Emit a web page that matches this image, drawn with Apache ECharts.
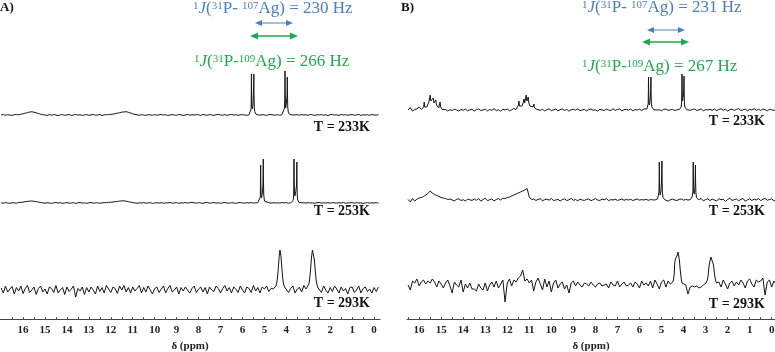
<!DOCTYPE html>
<html>
<head>
<meta charset="utf-8">
<script src="https://cdn.jsdelivr.net/npm/echarts@6/dist/echarts.min.js"></script>
<style>
  html, body { margin: 0; padding: 0; background: #fff; }
  #chart { width: 775px; height: 352px; }
</style>
</head>
<body>
<div id="chart"></div>
<script>
// baseline samples are stored every 0.1 ppm, starting at these shifts
const ppmStep = 0.1;
const ppmStartA = 17.0;
const ppmStartB = 16.5;

const tickLabels = [16, 15, 14, 13, 12, 11, 10, 9, 8, 7, 6, 5, 4, 3, 2, 1, 0];
const tempLabels = ['T = 233K', 'T = 253K', 'T = 293K'];

// ---- panel A ----
const noiseA233 = [
  0, 0.5, -0.3, 0.4, 0, -0.5, 0.3, 0.6, 0.2, 0.8,
  1.2, 1.8, 2.4, 3.0, 3.2, 2.8, 2.2, 1.5, 0.8, 0.3,
  0, -0.4, 0.3, -0.2, 0.5, 0, -0.6, 0.2, 0.4, -0.3,
  0.1, 0.5, -0.4, 0, 0.6, -0.2, 0.3, -0.5, 0.2, 0.4,
  -0.3, 0.1, 0.5, -0.2, 0, 0.4, -0.5, 0.3, 0.2, 0.4,
  0.6, 0.9, 1.3, 1.8, 2.3, 2.8, 3.1, 3.3, 2.7, 2.0,
  1.2, 0.6, 0.2, -0.3, 0.4, 0, -0.4, 0.3, 0.1, -0.2,
  0.4, -0.3, 0.2, 0.5, -0.1, 0.3, -0.5, 0.1, 0.4, 0,
  -0.3, 0.5, 0.2, -0.4, 0, 0.6, -0.2, 0.3, -0.1, 0.4,
  0.2, -0.4, 0.5, 0, -0.3, 0.4, 0.1, -0.5, 0.3, 0.6,
  0, -0.2, 0.4, -0.4, 0.2, 0.5, -0.1, 0.3, -0.3, 0.2,
  0.4, 0, -0.3, 0.5, 0.2, 0, 0, 0, -0.2, 0.3,
  0.1, -0.4, 0.3, 0.5, 0, -0.2, 0.4, -0.3, 0.2, 0.6,
  0.2, 0, 0, 0, 0.1, 0.3, -0.2, 0.4, 0, 0.2,
  -0.3, 0.5, 0.1, -0.4, 0.3, 0, 0.4, -0.2, 0.2, -0.5,
  0.3, 0.6, -0.1, 0.2, -0.4, 0.5, 0, 0.3, -0.3, 0.2,
  0.4, -0.2, 0.1, 0.5, -0.4, 0.2, 0, 0.3, -0.3, 0.4,
  0.1, -0.2, 0.3
];
const peaksA233 = [
  [[5.70, 0.3], [5.65, 0.8], [5.62, 2], [5.605, 6], [5.597, 20], [5.59, 41], [5.583, 22], [5.57, 9],
   [5.55, 6], [5.535, 8], [5.52, 10], [5.505, 18], [5.49, 30], [5.48, 41], [5.473, 22], [5.46, 8],
   [5.44, 3.5], [5.41, 1.5], [5.38, 0.6], [5.36, 0.2]],
  [[4.20, 0.3], [4.15, 0.8], [4.11, 2], [4.08, 7], [4.067, 22], [4.06, 44], [4.053, 26], [4.04, 10],
   [4.025, 7], [4.005, 9], [3.99, 14], [3.965, 20], [3.955, 38], [3.948, 22], [3.935, 8], [3.91, 3],
   [3.88, 1.2], [3.84, 0.5], [3.82, 0.2]]
];

const noiseA253 = [
  0.2, -0.3, 0.4, 0, -0.4, 0.3, 0.1, -0.2, 0.5, 0.6,
  0.9, 1.3, 1.6, 1.9, 2.0, 1.7, 1.3, 0.9, 0.5, 0.1,
  -0.2, 0.3, 0, -0.4, 0.2, 0.5, -0.1, 0.3, -0.3, 0.1,
  0.4, -0.2, 0, 0.3, -0.4, 0.2, 0.5, -0.1, 0.1, -0.3,
  0.2, 0.5, -0.2, 0, 0.3, -0.3, 0.1, 0.4, 0.3, 0.6,
  0.8, 1.0, 1.3, 1.6, 1.9, 2.1, 2.2, 1.8, 1.3, 0.8,
  0.4, 0.1, -0.3, 0.2, 0, 0.4, -0.2, 0.1, 0.3, -0.4,
  0, 0.3, -0.1, 0.4, -0.3, 0.2, 0, 0.5, -0.2, 0.1,
  0.3, -0.4, 0.2, 0, 0.4, -0.1, 0.3, 0.6, 0.1, -0.2,
  0.4, 0, -0.3, 0.3, 0.5, -0.2, 0.1, 0.4, -0.1, 0.2,
  -0.3, 0.2, 0.4, 0, -0.2, 0.3, 0.1, -0.4, 0.2, 0.5,
  0.1, -0.2, 0.3, 0, 0.4, -0.1, 0.2, 0.5, 0, 0.2,
  -0.3, 0.1, 0.4, -0.2, 0.3, 0, 0.2, -0.1, 0.4, 0.1,
  0.3, -0.2, 0.2, 0.5, 0, 0.1, -0.3, 0.3, 0.2, -0.1,
  0.4, 0, 0.2, -0.3, 0.3, 0.5, -0.1, 0.2, 0, 0.3,
  -0.2, 0.4, 0.1, -0.1, 0.3, 0, 0.5, -0.3, 0.2, 0.1,
  0.3, -0.2, 0.4, 0, 0.2, -0.4, 0.1, 0.3, -0.1, 0.2,
  0, 0.3, -0.2
];
const peaksA253 = [
  [[5.30, 0.3], [5.25, 0.8], [5.21, 2], [5.185, 6], [5.177, 18], [5.17, 38], [5.163, 20], [5.15, 8],
   [5.13, 5], [5.11, 7], [5.09, 10], [5.065, 18], [5.057, 30], [5.05, 44], [5.043, 24], [5.03, 9],
   [5.01, 4], [4.98, 1.5], [4.95, 0.6], [4.92, 0.2]],
  [[3.78, 0.3], [3.73, 0.8], [3.69, 2.5], [3.665, 8], [3.657, 24], [3.65, 44], [3.643, 28], [3.63, 11],
   [3.61, 7], [3.59, 8], [3.57, 11], [3.535, 18], [3.527, 26], [3.52, 41], [3.513, 20], [3.50, 7],
   [3.48, 3], [3.45, 1.2], [3.42, 0.4], [3.40, 0.1]]
];

const noiseA293 = [
  2, -3, 4, -2, 1, 3.5, -4, 2.5, -1, 4,
  -3.5, 1.5, 4.5, -2.5, 0, 3, -4.5, 1.5, 4, -2,
  1, -4, 3, 1.5, -2.5, 4.5, -3, 0, 2.5, -4.5,
  3, -1.5, 1, 4, -7, 1.5, -1, 3, -4.5, 2.5,
  -2, 3, 0, -4, 4, -1.5, 2.5, -3, 4.5, 1,
  -2.5, 3, 1.5, -3.5, 4, 0, 4.5, -2, 2.5, -3,
  3, -1, 1.5, 4.5, -3, 2.5, -2, 4, 0, -4,
  1.5, 3, -2.5, 1, 4, -3, 1.5, 4.5, -2, 0,
  3, -4, 2.5, -1, 3, 0, -3, 1.5, 4, -2.5,
  1, 3, -2, 2.5, -4, 3, 0, -1.5, 4, 1.5,
  -3, 1.5, 4.5, -1, 2.5, -3, 3, 1, -2.5, 4,
  0, -3, 3, 1.5, -2.5, 4.5, -1, 2.5, -3, 3,
  1, 4, -1.5, 1.5, 4.5, 0, -1, 2, 1, -2,
  3, -2.5, 1.5, 4, -3, 1, 2.5, -2, 4.5, -1,
  1, 2, -2, 0, 2.5, 3, -2.5, 4, 0, -3,
  2.5, -1.5, 4, 1, -3, 3, -1, 1.5, -4, 2.5,
  3, -2.5, 0, 4, -3, 1.5, 3, -1.5, 1, -3,
  2.5, -1.5, 3
];
const peaksA293 = [
  [[4.60, 1], [4.52, 2], [4.47, 4], [4.43, 8], [4.39, 15], [4.35, 26], [4.32, 35], [4.29, 40],
   [4.27, 39], [4.24, 33], [4.21, 24], [4.17, 13], [4.13, 6], [4.08, 3], [4.02, 1]],
  [[3.10, 1], [3.02, 3], [2.97, 6], [2.93, 12], [2.89, 22], [2.85, 33], [2.81, 40], [2.78, 42],
   [2.75, 38], [2.72, 30], [2.68, 19], [2.64, 10], [2.60, 5], [2.55, 2], [2.48, 0]]
];

// ---- panel B ----
const noiseB233 = [
  0, 2.5, -1, 0.5, 1, 3, 0.5, 1, 2, 1,
  1, 2, 1, 0.5, 1, 0, -0.5, 0.5, -1, 0.3,
  -0.5, 0.8, 0, -1, 0.6, -0.4, 1, -0.8, 0.2, 0.7,
  -1, 0.4, 1.2, -0.6, 0, 0.9, -0.9, 0.5, -0.2, 1.3,
  -0.5, 0.3, -1.2, 0.8, 0, 1, -0.7, 0.2, 1.5, 0.5,
  1, 2, 2, 2, 1, 1, 0, 0.5, -0.5, 0.6,
  -0.3, 0.7, -1, 0.4, 1.1, -0.6, 0.2, 0.9, -0.8, 0.3,
  1, -0.4, 0.6, -1.1, 0.3, 0.8, -0.2, 1.2, -0.7, 0,
  0.5, -0.9, 0.4, 1, -0.3, 0.2, -1, 0.7, 0.1, -0.5,
  0.9, 0, -0.6, 1.3, -0.4, 0.5, 1, -0.8, 0.3, 0.6,
  -0.2, 1, -0.9, 0.4, 0, 0.8, -0.5, 1.1, 0.2, 0.6,
  0, 0, 0, 0, 0.3, -0.8, 0.6, 1, -0.4, 0.2,
  0.7, -0.6, 0.3, 0, 0, 0, 0, 0, -0.3, 0.5,
  0.9, -0.5, 0.2, 1.1, -0.8, 0.4, 0, 0.7, -0.3, 1,
  -0.6, 0.5, 1.2, -0.2, 0.8, -1, 0.3, 0.9, -0.4, 0.6,
  1.4, -0.5, 0.2, 1, -0.9, 0.6, 0.1, 1.3, -0.3, 0.8,
  -0.6, 1, 0.3, -0.8, 0.7, 0.2, -0.4, 0.9
];
const peaksB233 = [
  [[15.90, 0.5], [15.82, 1], [15.79, 3], [15.77, 8], [15.75, 3], [15.70, 2], [15.65, 3], [15.60, 5],
   [15.56, 8], [15.52, 12], [15.50, 15], [15.47, 9], [15.43, 8], [15.39, 9], [15.36, 12], [15.33, 7],
   [15.29, 6], [15.26, 8], [15.24, 10], [15.21, 5], [15.16, 3], [15.11, 2], [15.08, 4], [15.05, 8],
   [15.02, 3], [14.98, 1], [14.95, 0.5]],
  [[11.60, 0.5], [11.52, 1.5], [11.49, 5], [11.47, 9], [11.45, 4], [11.40, 3], [11.33, 4], [11.28, 7],
   [11.24, 11], [11.21, 7], [11.17, 9], [11.14, 15], [11.11, 9], [11.08, 10], [11.05, 13], [11.02, 7],
   [10.97, 4], [10.92, 3], [10.88, 2.5], [10.83, 3], [10.79, 6], [10.76, 2], [10.71, 1], [10.65, 0.5]],
  [[5.72, 0.3], [5.67, 1], [5.63, 2.5], [5.605, 6], [5.597, 18], [5.59, 33], [5.583, 18], [5.57, 8],
   [5.55, 5], [5.535, 7], [5.515, 10], [5.495, 18], [5.487, 26], [5.48, 33], [5.473, 18], [5.46, 7],
   [5.44, 3], [5.40, 1], [5.36, 0.3]],
  [[4.20, 0.3], [4.15, 1], [4.11, 3], [4.085, 8], [4.077, 20], [4.07, 36], [4.063, 20], [4.05, 9],
   [4.03, 7], [4.01, 9], [3.995, 16], [3.987, 24], [3.98, 34], [3.973, 18], [3.96, 7], [3.94, 3],
   [3.90, 1], [3.85, 0.3]]
];

const noiseB253 = [
  0.5, -2, 1.5, -1, 0.8, 2, 2.5, 3.5, 5, 6.5,
  9, 7, 5.5, 4.5, 3.5, 2.5, 2, 1.5, 0.5, 1,
  0, -0.8, 0.6, 1.2, -0.5, 0.3, -1, 0.8, 0.2, -0.4,
  0.9, -0.3, 1.5, -1.2, 0.4, 1.8, -0.6, 0.2, 1, -0.9,
  0.5, 1.4, 0, 1.8, 1.5, 2.5, 3, 4, 5, 6,
  7, 8, 9, 10, 11.5, 3, 0.5, 1, -0.5, 0.6,
  1.2, -0.8, 0.3, 0.9, -0.2, 1.5, -0.6, 0, 0.7, -1,
  0.4, 1.1, -0.5, 0.2, 1.6, -0.3, 0.5, -0.9, 0.8, 0,
  -0.4, 0.6, 1, -0.7, 0.3, 1.4, 0, -0.5, 0.9, 0.2,
  1.3, -0.6, 0.4, 0, 0.8, -0.4, 0.2, 1, -0.3, 0.5,
  0, 0.7, -0.5, 0.3, 1, -0.2, 0.4, 0, 0.6, -0.3,
  0.4, 0.2, 0, 0, 0, 0, 0, 0, -1.2, 0.3,
  0.8, 0, -0.5, 0.6, 1, -0.2, 0.5, 0, 0, 0,
  0, 0, 0.5, 1.5, -0.8, 0.4, 1.2, -0.6, 0.9, 0,
  -1, 1.3, 0.2, 0.8, -1.5, 0.5, 1.7, -0.4, 0.3, 1,
  -0.8, 0.6, 1.5, -1.1, 0.2, 1.2, -0.5, 0.9, 0, 1.4,
  -0.6, 0.8, 1.6, -0.3, 0.5, 1.1, -0.7, 0.4
];
const peaksB253 = [
  [[5.23, 0.3], [5.18, 1], [5.14, 3], [5.115, 8], [5.107, 20], [5.10, 38], [5.093, 20], [5.08, 8],
   [5.06, 5], [5.045, 7], [5.02, 10], [5.003, 18], [4.99, 28], [4.98, 39], [4.973, 20], [4.96, 7],
   [4.93, 2.5], [4.89, 1], [4.85, 0.3]],
  [[3.70, 0.3], [3.65, 1], [3.61, 3], [3.575, 8], [3.567, 22], [3.56, 38], [3.553, 22], [3.54, 9],
   [3.52, 6], [3.50, 8], [3.48, 12], [3.472, 20], [3.466, 26], [3.46, 35], [3.453, 18], [3.44, 7],
   [3.41, 2.5], [3.37, 1], [3.33, 0.3]]
];

const noiseB293 = [
  0, -5, 4, 2, 6, -1, 3, 5, 1, 4,
  2, 6, 3, -2, 4, 1, -3, 2, 5, -1,
  -8, 3, 0, -2, 5, -7, 1, -3, 2, -4,
  -4, -6, 1, -3, -5, 2, -6, 0, 3, -2,
  4, -3, 1, 5, -17, 2, 6, -1, 5, 3,
  7, 9, 15, 4, 6, 2, 5, -6, 3, 7,
  1, -5, 6, -2, 4, -7, 2, 5, -3, 1,
  3, -4, 0, -8, 2, 4, -1, 3, 0, -2,
  2, 1, -1, 3, 0, -2, 1, 2, -1, 0,
  1, -3, 3, 0, -1, 4, -2, 1, 3, -1,
  0, 2, -2, 3, 1, -3, 4, 0, 2, -1,
  4, -3, 5, 1, -4, 3, 5, -2, 4, 1,
  3, 6, 0, 0, 0, 0, 0, -9, -2, -1,
  -2, -1, -3, -2, 0, 0, 0, 0, 0, 0,
  0, 3, -2, 5, 1, -4, 2, 4, -1, 3,
  0, 5, 2, -3, 4, 6, 1, -2, 5, 3,
  4, 7, -10, 3, 5, -2, 4, 1
];
const peaksB293 = [
  [[4.55, 1], [4.49, 3], [4.45, 6], [4.42, 12], [4.40, 22], [4.37, 26], [4.34, 24], [4.31, 28],
   [4.28, 30], [4.25, 33], [4.22, 31], [4.19, 25], [4.15, 15], [4.11, 7], [4.07, 2], [4.02, 0]],
  [[3.05, 0], [2.98, 2], [2.92, 5], [2.88, 10], [2.85, 18], [2.82, 22], [2.79, 25], [2.76, 28],
   [2.73, 27], [2.70, 24], [2.67, 26], [2.64, 20], [2.60, 12], [2.56, 6], [2.51, 2], [2.45, 0]]
];

// merge baseline samples with the dense peak segments
function buildTrace(start, noise, peaks) {
  const ranges = peaks.map((seg) => [seg[seg.length - 1][0], seg[0][0]]);
  const pts = [];
  noise.forEach((v, i) => {
    const ppm = +(start - i * ppmStep).toFixed(3);
    if (!ranges.some(([lo, hi]) => ppm >= lo && ppm <= hi)) pts.push([ppm, v]);
  });
  peaks.forEach((seg) => seg.forEach((p) => pts.push(p)));
  pts.sort((a, b) => b[0] - a[0]);
  return pts;
}

const SERIF = '"Liberation Serif", "Times New Roman", serif';
const BLUE = '#4a7ebf';
const GREEN = '#1fa94d';
const axisY = 319;

const panels = [
  { left: 0, width: 380, min: -0.27, max: 17.05 },
  { left: 407, width: 368, min: -0.15, max: 16.55 }
];

const traces = [
  { panel: 0, base: 115, start: ppmStartA, noise: noiseA233, peaks: peaksA233 },
  { panel: 0, base: 203, start: ppmStartA, noise: noiseA253, peaks: peaksA253 },
  { panel: 0, base: 290, start: ppmStartA, noise: noiseA293, peaks: peaksA293 },
  { panel: 1, base: 110, start: ppmStartB, noise: noiseB233, peaks: peaksB233 },
  { panel: 1, base: 200, start: ppmStartB, noise: noiseB253, peaks: peaksB253 },
  { panel: 1, base: 285, start: ppmStartB, noise: noiseB293, peaks: peaksB293 }
];

const grid = [], xAxis = [], yAxis = [], series = [];
traces.forEach((t, i) => {
  const p = panels[t.panel];
  const last = (i % 3) === 2;
  const top = t.base - 60;
  const bottomPx = last ? axisY : t.base + 20;
  grid.push({ left: p.left, width: p.width, top, height: bottomPx - top, outerBoundsMode: 'none' });
  xAxis.push({
    gridIndex: i, type: 'value', min: p.min, max: p.max, inverse: true,
    show: last,
    axisLine: { show: true, onZero: false, lineStyle: { color: '#444', width: 1 } },
    axisTick: {
      show: true, inside: true, length: 2,
      customValues: tickLabels.concat(tickLabels.map((v) => v + 0.5)),
      lineStyle: { color: '#555' }
    },
    axisLabel: {
      customValues: tickLabels, margin: 6,
      fontFamily: SERIF, fontWeight: 'bold', fontSize: 11, color: '#222'
    },
    splitLine: { show: false },
    name: 'δ (ppm)', nameLocation: 'middle', nameGap: 22,
    nameTextStyle: { fontFamily: SERIF, fontWeight: 'bold', fontSize: 11, color: '#222' }
  });
  yAxis.push({
    gridIndex: i, type: 'value', show: false,
    min: -(bottomPx - t.base), max: 60
  });
  series.push({
    type: 'line', xAxisIndex: i, yAxisIndex: i,
    data: buildTrace(t.start, t.noise, t.peaks),
    showSymbol: false, symbol: 'none',
    lineStyle: { color: '#151515', width: 1 },
    silent: true, animation: false
  });
});

// text labels
const tempPos = [
  [370, 127], [370, 211], [370, 303],
  [765, 121], [765, 211], [765, 304]
];
const graphic = [];
tempPos.forEach(([x, y], i) => {
  graphic.push({
    type: 'text', x, y, silent: true,
    style: {
      text: tempLabels[i % 3], align: 'right', verticalAlign: 'middle',
      fontFamily: SERIF, fontWeight: 'bold', fontSize: 14, fill: '#111'
    }
  });
});
[['A)', 0, 8], ['B)', 401, 8]].forEach(([txt, x, y]) => {
  graphic.push({
    type: 'text', x, y, silent: true,
    style: { text: txt, verticalAlign: 'middle', fontFamily: SERIF, fontWeight: 'bold', fontSize: 13, fill: '#111' }
  });
});

const richJ = (color) => ({
  n: { fontFamily: SERIF, fontSize: 17, fill: color },
  i: { fontFamily: SERIF, fontSize: 17, fontStyle: 'italic', fill: color },
  s: { fontFamily: SERIF, fontSize: 11, fill: color, verticalAlign: 'top' }
});
const couplings = [
  { x: 193, y: 9, iso: '107', sep: '- ', hz: '230', color: BLUE },
  { x: 194, y: 62, iso: '109', sep: '-', hz: '266', color: GREEN },
  { x: 582, y: 8, iso: '107', sep: '- ', hz: '231', color: BLUE },
  { x: 582, y: 67, iso: '109', sep: '-', hz: '267', color: GREEN }
];
couplings.forEach((c) => {
  graphic.push({
    type: 'text', x: c.x, y: c.y, silent: true,
    style: {
      text: `{s|1}{i|J}{n|(}{s|31}{n|P${c.sep}}{s|${c.iso}}{n|Ag) = ${c.hz} Hz}`,
      rich: richJ(c.color), verticalAlign: 'middle', fill: c.color
    }
  });
});

// double-headed arrows
function arrow(x1, x2, y, color, w, head, half) {
  graphic.push({
    type: 'line', silent: true,
    shape: { x1: x1 + head - 1, y1: y, x2: x2 - head + 1, y2: y },
    style: { stroke: color, lineWidth: w }
  });
  graphic.push({
    type: 'polygon', silent: true,
    shape: { points: [[x1, y], [x1 + head, y - half], [x1 + head, y + half]] },
    style: { fill: color }
  });
  graphic.push({
    type: 'polygon', silent: true,
    shape: { points: [[x2, y], [x2 - head, y - half], [x2 - head, y + half]] },
    style: { fill: color }
  });
}
arrow(255, 293, 23, BLUE, 1, 7, 3);
arrow(250, 298, 36, GREEN, 1.5, 8, 3.5);
arrow(647, 685, 30, BLUE, 1, 7, 3);
arrow(642, 689, 42, GREEN, 1.5, 8, 3.5);

const chart = echarts.init(document.getElementById('chart'));
chart.setOption({
  backgroundColor: '#fff',
  animation: false,
  grid, xAxis, yAxis, series, graphic
});
</script>
</body>
</html>
